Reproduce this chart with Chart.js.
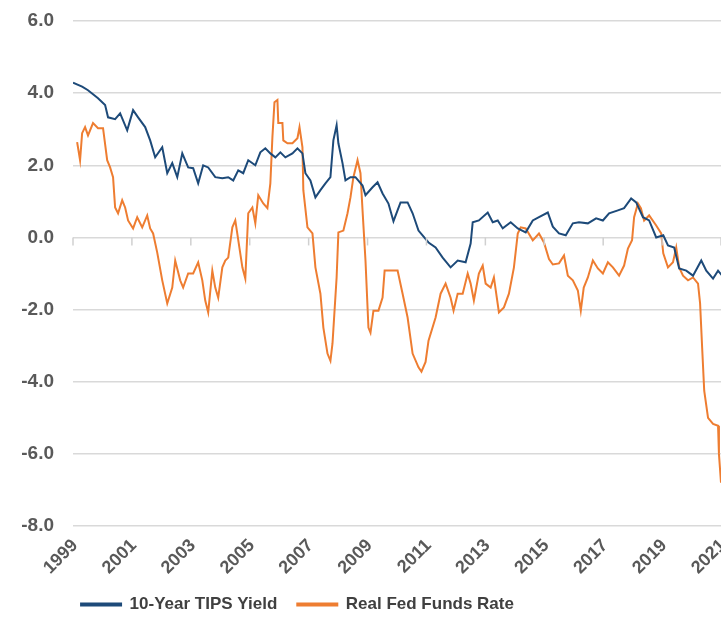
<!DOCTYPE html>
<html>
<head>
<meta charset="utf-8">
<script src="https://cdn.jsdelivr.net/npm/chart.js@4.4.0/dist/chart.umd.min.js"></script>
<style>
  html, body { margin: 0; padding: 0; background: #fff; }
  canvas { display: block; }
</style>
</head>
<body>
<canvas id="ratesChart" width="721" height="633"></canvas>
<script>
// 10-Year TIPS yield
const tipsYears = [1999.00, 1999.31, 1999.51, 1999.85, 2000.09, 2000.19, 2000.43, 2000.60, 2000.84, 2001.04,
  2001.21, 2001.45, 2001.62, 2001.79, 2002.03, 2002.20, 2002.37, 2002.54, 2002.71, 2002.91,
  2003.08, 2003.25, 2003.42, 2003.59, 2003.83, 2004.07, 2004.27, 2004.44, 2004.61, 2004.78,
  2004.95, 2005.19, 2005.36, 2005.53, 2005.70, 2005.87, 2006.04, 2006.21, 2006.45, 2006.62,
  2006.79, 2006.89, 2007.06, 2007.23, 2007.40, 2007.57, 2007.74, 2007.84, 2007.95, 2008.01,
  2008.15, 2008.25, 2008.42, 2008.59, 2008.83, 2008.93, 2009.17, 2009.34, 2009.51, 2009.71,
  2009.88, 2010.12, 2010.36, 2010.53, 2010.73, 2011.07, 2011.31, 2011.55, 2011.82, 2012.06,
  2012.33, 2012.50, 2012.57, 2012.78, 2013.08, 2013.25, 2013.42, 2013.59, 2013.86, 2014.10,
  2014.37, 2014.61, 2014.82, 2015.12, 2015.29, 2015.50, 2015.73, 2015.97, 2016.18, 2016.48,
  2016.76, 2016.99, 2017.20, 2017.50, 2017.71, 2017.95, 2018.12, 2018.35, 2018.56, 2018.80,
  2019.04, 2019.20, 2019.41, 2019.58, 2019.82, 2020.05, 2020.33, 2020.50, 2020.73, 2020.90, 2021.04];
const tipsValues = [4.29, 4.18, 4.08, 3.86, 3.67, 3.33, 3.28, 3.44, 2.97, 3.53,
  3.33, 3.06, 2.69, 2.22, 2.50, 1.78, 2.06, 1.67, 2.33, 1.94,
  1.92, 1.50, 2.00, 1.94, 1.67, 1.64, 1.67, 1.58, 1.86, 1.78,
  2.14, 2.00, 2.36, 2.47, 2.33, 2.22, 2.36, 2.22, 2.33, 2.47,
  2.33, 1.78, 1.58, 1.11, 1.31, 1.50, 1.67, 2.69, 3.11, 2.61,
  2.06, 1.58, 1.67, 1.67, 1.44, 1.17, 1.39, 1.53, 1.22, 0.94,
  0.45, 0.97, 0.97, 0.67, 0.19, -0.14, -0.28, -0.56, -0.83, -0.64,
  -0.69, -0.17, 0.42, 0.47, 0.69, 0.42, 0.47, 0.25, 0.42, 0.25,
  0.14, 0.47, 0.56, 0.69, 0.30, 0.11, 0.06, 0.39, 0.42, 0.39,
  0.53, 0.47, 0.67, 0.75, 0.81, 1.08, 0.97, 0.56, 0.47, 0.00,
  0.06, -0.22, -0.28, -0.86, -0.92, -1.06, -0.64, -0.92, -1.14, -0.92, -1.06];

// Real fed funds rate
const fedYears = [1999.14, 1999.24, 1999.31, 1999.41, 1999.51, 1999.68, 1999.85, 2000.02, 2000.16, 2000.26,
  2000.36, 2000.43, 2000.53, 2000.67, 2000.77, 2000.87, 2001.04, 2001.18, 2001.35, 2001.52,
  2001.62, 2001.72, 2001.86, 2002.03, 2002.20, 2002.37, 2002.47, 2002.64, 2002.74, 2002.91,
  2003.08, 2003.25, 2003.39, 2003.49, 2003.59, 2003.73, 2003.83, 2003.93, 2004.07, 2004.17,
  2004.27, 2004.41, 2004.51, 2004.75, 2004.85, 2004.95, 2005.09, 2005.19, 2005.29, 2005.46,
  2005.60, 2005.70, 2005.77, 2005.84, 2005.94, 2005.97, 2006.11, 2006.14, 2006.28, 2006.45,
  2006.62, 2006.69, 2006.79, 2006.82, 2006.96, 2007.13, 2007.23, 2007.40, 2007.50, 2007.64,
  2007.74, 2007.81, 2007.95, 2008.01, 2008.18, 2008.32, 2008.42, 2008.52, 2008.66, 2008.76,
  2008.83, 2008.93, 2009.03, 2009.10, 2009.20, 2009.37, 2009.51, 2009.58, 2009.85, 2010.02,
  2010.19, 2010.36, 2010.53, 2010.73, 2010.83, 2010.97, 2011.07, 2011.31, 2011.48, 2011.65,
  2011.82, 2011.92, 2012.06, 2012.23, 2012.40, 2012.50, 2012.61, 2012.78, 2012.91, 2013.01,
  2013.18, 2013.29, 2013.46, 2013.63, 2013.80, 2013.97, 2014.10, 2014.20, 2014.37, 2014.61,
  2014.82, 2014.99, 2015.16, 2015.29, 2015.50, 2015.67, 2015.80, 2015.97, 2016.14, 2016.24,
  2016.34, 2016.48, 2016.65, 2016.82, 2016.99, 2017.16, 2017.33, 2017.54, 2017.71, 2017.84,
  2017.98, 2018.05, 2018.18, 2018.28, 2018.39, 2018.56, 2018.80, 2018.97, 2019.04, 2019.20,
  2019.37, 2019.48, 2019.58, 2019.71, 2019.88, 2020.05, 2020.22, 2020.29, 2020.36, 2020.43,
  2020.56, 2020.73, 2020.90, 2020.93, 2021.00];
const fedValues = [2.64, 2.14, 2.89, 3.06, 2.83, 3.17, 3.03, 3.03, 2.14, 1.94,
  1.67, 0.83, 0.67, 1.03, 0.83, 0.47, 0.25, 0.56, 0.28, 0.61,
  0.25, 0.11, -0.42, -1.19, -1.83, -1.39, -0.64, -1.19, -1.39, -1.00,
  -1.00, -0.69, -1.19, -1.75, -2.08, -0.92, -1.39, -1.67, -0.83, -0.64,
  -0.56, 0.28, 0.47, -0.83, -1.14, 0.67, 0.83, 0.39, 1.17, 0.94,
  0.81, 1.50, 2.78, 3.75, 3.81, 3.17, 3.17, 2.69, 2.61, 2.61,
  2.75, 3.06, 2.50, 1.31, 0.28, 0.11, -0.83, -1.56, -2.50, -3.22,
  -3.42, -2.94, -1.11, 0.14, 0.19, 0.67, 1.11, 1.67, 2.14, 1.78,
  0.75, -0.64, -2.50, -2.64, -2.03, -2.03, -1.67, -0.92, -0.92, -0.92,
  -1.56, -2.22, -3.22, -3.60, -3.72, -3.45, -2.86, -2.22, -1.56, -1.28,
  -1.67, -2.03, -1.56, -1.56, -1.00, -1.28, -1.75, -1.00, -0.78, -1.28,
  -1.39, -1.11, -2.08, -1.94, -1.56, -0.83, 0.11, 0.28, 0.25, -0.08,
  0.11, -0.14, -0.60, -0.75, -0.72, -0.50, -1.06, -1.19, -1.47, -2.03,
  -1.39, -1.11, -0.64, -0.86, -1.00, -0.69, -0.83, -1.06, -0.78, -0.31,
  -0.08, 0.56, 0.94, 0.81, 0.47, 0.61, 0.33, 0.11, -0.44, -0.83,
  -0.69, -0.28, -0.83, -1.06, -1.19, -1.11, -1.28, -1.83, -3.06, -4.25,
  -5.00, -5.17, -5.22, -6.00, -6.80];

const xTickYears = [1999, 2001, 2003, 2005, 2007, 2009, 2011, 2013, 2015, 2017, 2019, 2021];
const yTickValues = [6, 4, 2, 0, -2, -4, -6, -8];

const seriesNames = ['10-Year TIPS Yield', 'Real Fed Funds Rate'];

const toPoints = (xs, ys) => xs.map((x, i) => ({ x: x, y: ys[i] }));

// small tick marks hanging below the zero line
const zeroTicks = {
  id: 'zeroTicks',
  afterDatasetsDraw(chart) {
    const xs = chart.scales.x, ys = chart.scales.y;
    const y0 = ys.getPixelForValue(0);
    const c = chart.ctx;
    c.save();
    c.strokeStyle = '#d0d0d0';
    c.lineWidth = 1.5;
    xTickYears.forEach(yr => {
      const px = xs.getPixelForValue(yr);
      c.beginPath();
      c.moveTo(px, y0);
      c.lineTo(px, y0 + 8);
      c.stroke();
    });
    c.restore();
  }
};

// the legend sits a bit left of centre in the original
const legendShift = {
  id: 'legendShift',
  afterLayout(chart) {
    chart.legend.left -= 63;
    chart.legend.right -= 63;
  }
};

const ctx = document.getElementById('ratesChart').getContext('2d');
new Chart(ctx, {
  type: 'line',
  data: {
    datasets: [{
      label: seriesNames[0],
      data: toPoints(tipsYears, tipsValues),
      borderColor: '#1d4a79',
      backgroundColor: '#1d4a79',
      borderWidth: 2,
      pointRadius: 0,
      tension: 0
    }, {
      label: seriesNames[1],
      data: toPoints(fedYears, fedValues),
      borderColor: '#ee7d31',
      backgroundColor: '#ee7d31',
      borderWidth: 2,
      pointRadius: 0,
      tension: 0
    }]
  },
  options: {
    responsive: false,
    animation: false,
    devicePixelRatio: 1,
    layout: { padding: { top: 21, right: 0, bottom: 10, left: 0 } },
    scales: {
      x: {
        type: 'linear',
        min: 1999,
        max: 2021,
        afterBuildTicks: s => { s.ticks = xTickYears.map(v => ({ value: v })); },
        afterFit: s => { s.height = 50; s.paddingLeft = 0; s.paddingRight = 0; },
        grid: { display: false },
        border: { display: false },
        ticks: {
          autoSkip: false,
          maxRotation: 45,
          minRotation: 45,
          labelOffset: 2,
          padding: 1,
          color: '#595959',
          font: { family: 'Liberation Sans', size: 18, weight: 'bold' },
          callback: v => String(v)
        }
      },
      y: {
        min: -8,
        max: 6,
        afterBuildTicks: s => { s.ticks = yTickValues.map(v => ({ value: v })); },
        afterFit: s => { s.width = 73; s.paddingTop = 0; s.paddingBottom = 0; },
        grid: { color: '#d9d9d9', lineWidth: 1.5, drawTicks: false },
        border: { display: false },
        ticks: {
          padding: 19,
          color: '#595959',
          font: { family: 'Liberation Sans', size: 19, weight: 'bold' },
          callback: v => v.toFixed(1)
        }
      }
    },
    plugins: {
      legend: {
        position: 'bottom',
        labels: {
          boxWidth: 40,
          boxHeight: 2,
          padding: 20,
          color: '#404040',
          font: { family: 'Liberation Sans', size: 17, weight: 'bold' }
        }
      },
      tooltip: { enabled: false }
    }
  },
  plugins: [zeroTicks, legendShift]
});
</script>
</body>
</html>
